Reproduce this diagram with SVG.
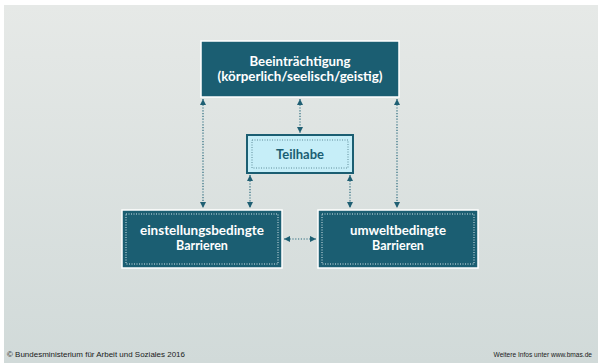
<svg xmlns="http://www.w3.org/2000/svg" width="599" height="363" viewBox="0 0 599 363">
<defs>
<linearGradient id="bg" x1="0" y1="0" x2="0" y2="1">
<stop offset="0" stop-color="#e6e9e7"/>
<stop offset="1" stop-color="#d1dad9"/>
</linearGradient>
<marker id="ah" viewBox="0 0 6 6" refX="6" refY="3" markerWidth="6" markerHeight="6" markerUnits="userSpaceOnUse" orient="auto-start-reverse">
<path d="M0,0 L6,3 L0,6 Z" fill="#1f5f73"/>
</marker>
<style>
.dark{fill:#1b5e72;stroke:#ffffff;stroke-width:1.5}
.inner{fill:none;stroke:#d8e6ea;stroke-width:1;stroke-dasharray:1 1.5}
.wt{font-family:Lato,"Open Sans",sans-serif;font-weight:bold;font-size:12.5px;fill:#ffffff;text-anchor:middle}
.lt{font-family:Lato,"Open Sans",sans-serif;font-weight:bold;font-size:13px;fill:#1b5e72;text-anchor:middle}
.con{fill:none;stroke:#2a6a7d;stroke-width:1.2;stroke-dasharray:1.2 1.6;marker-start:url(#ah);marker-end:url(#ah)}
.ft{font-family:"Liberation Sans",sans-serif;font-size:6.6px;fill:#1a1a1a}
</style>
</defs>
<rect x="0" y="0" width="599" height="363" fill="#ffffff"/>
<rect x="4" y="5" width="594" height="358" fill="url(#bg)"/>
<g id="connectors">
<line class="con" x1="203" y1="99" x2="203" y2="208"/>
<line class="con" x1="397" y1="99" x2="397" y2="208"/>
<line class="con" x1="300" y1="99" x2="300" y2="133"/>
<line class="con" x1="250" y1="175" x2="250" y2="208"/>
<line class="con" x1="350" y1="175" x2="350" y2="208"/>
<line class="con" x1="284" y1="239" x2="316" y2="239"/>
</g>
<g id="beeintraechtigung">
<rect class="dark" x="201" y="41" width="198" height="56"/>
<text class="wt" x="300" y="66" textLength="101" lengthAdjust="spacingAndGlyphs">Beeinträchtigung</text>
<text class="wt" x="300" y="81" textLength="165" lengthAdjust="spacingAndGlyphs">(körperlich/seelisch/geistig)</text>
</g>
<g id="teilhabe">
<rect x="247" y="135" width="106" height="38" fill="#c6eef8" stroke="#1b5e72" stroke-width="2"/>
<rect x="252" y="140" width="96" height="28" fill="none" stroke="#5f8c99" stroke-width="1" stroke-dasharray="1 1.5"/>
<text class="lt" x="300" y="158.5">Teilhabe</text>
</g>
<g id="einstellungsbedingte">
<rect class="dark" x="122" y="210" width="160" height="58"/>
<rect class="inner" x="126" y="214" width="152" height="50"/>
<text class="wt" x="202" y="235" textLength="124" lengthAdjust="spacingAndGlyphs">einstellungsbedingte</text>
<text class="wt" x="202" y="250">Barrieren</text>
</g>
<g id="umweltbedingte">
<rect class="dark" x="318" y="210" width="160" height="58"/>
<rect class="inner" x="322" y="214" width="152" height="50"/>
<text class="wt" x="398" y="235" textLength="96" lengthAdjust="spacingAndGlyphs">umweltbedingte</text>
<text class="wt" x="398" y="250">Barrieren</text>
</g>
<text class="ft" x="7" y="357" textLength="178" lengthAdjust="spacingAndGlyphs">© Bundesministerium für Arbeit und Soziales 2016</text>
<text class="ft" x="592" y="357" text-anchor="end">Weitere Infos unter www.bmas.de</text>
</svg>
